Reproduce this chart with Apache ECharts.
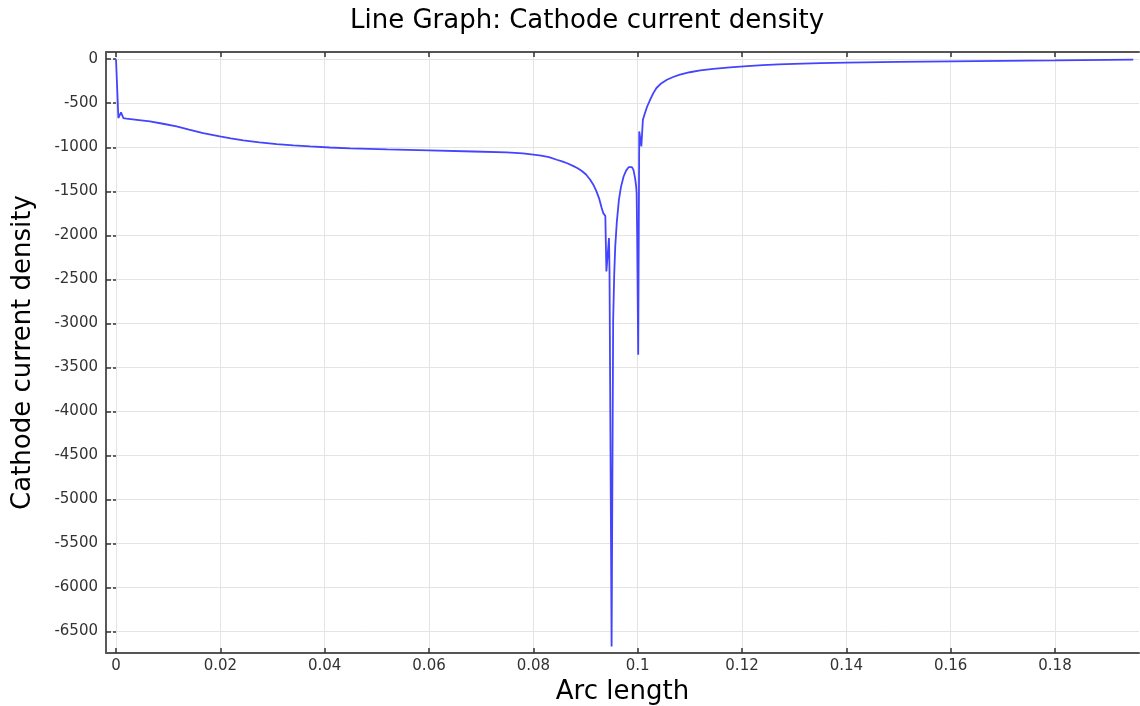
<!DOCTYPE html>
<html>
<head>
<meta charset="utf-8">
<script src="https://cdn.jsdelivr.net/npm/echarts@6/dist/echarts.min.js"></script>
<style>
  html, body { margin: 0; padding: 0; background: #fff; }
  #chart { width: 1140px; height: 706px; }
</style>
</head>
<body>
<div id="chart"></div>
<script>
// Arc length along the cathode boundary
const arcLength = [
  0, 0.00045, 0.00096, 0.0014, 0.002, 0.004, 0.0065, 0.009, 0.0116, 0.014,
  0.0167, 0.0199, 0.022, 0.0244, 0.0275, 0.0308, 0.034, 0.0372, 0.041, 0.0449,
  0.052, 0.0599, 0.0685, 0.0749, 0.078, 0.08, 0.0815, 0.083, 0.0845, 0.0855,
  0.0865, 0.0877, 0.0885, 0.0893, 0.0901, 0.0909, 0.0915, 0.0921, 0.0926, 0.0931,
  0.0934, 0.0938, 0.0940, 0.0945, 0.0946, 0.0950, 0.0953, 0.0955, 0.0957, 0.0960,
  0.0964, 0.0968, 0.0973, 0.0978, 0.0983, 0.0986, 0.0989, 0.0992, 0.0995, 0.0997,
  0.0998, 0.0999, 0.1001, 0.1003, 0.1007, 0.1010, 0.1014, 0.1018, 0.1024, 0.1030,
  0.1036, 0.1045, 0.1056, 0.1068, 0.1081, 0.110, 0.112, 0.1145, 0.1177, 0.121,
  0.124, 0.127, 0.13, 0.135, 0.14, 0.15, 0.16, 0.17, 0.18, 0.195
];

// Cathode current density at each arc length position
const currentDensity = [
  0, -668, -604, -668, -675, -688, -707, -733, -763, -800,
  -839, -877, -900, -922, -945, -964, -978, -990, -1003, -1013,
  -1025, -1036, -1048, -1059, -1070, -1083, -1095, -1112, -1142, -1160,
  -1182, -1215, -1238, -1270, -1310, -1369, -1425, -1502, -1580, -1691,
  -1748, -1780, -2411, -2032, -2400, -6670, -2960, -2450, -2127, -1850,
  -1597, -1450, -1332, -1262, -1225, -1215, -1225, -1260, -1350, -1440,
  -1520, -2000, -3358, -820, -991, -688, -611, -540, -460, -385,
  -327, -275, -233, -202, -176, -148, -127, -110, -92, -78,
  -67, -59, -53, -45, -39, -30, -24, -18, -14, -4
];

// Tick positions
const xTicks = [0, 0.02, 0.04, 0.06, 0.08, 0.1, 0.12, 0.14, 0.16, 0.18];
const yTicks = [0, -500, -1000, -1500, -2000, -2500, -3000, -3500, -4000,
                -4500, -5000, -5500, -6000, -6500];

const X_MIN = -0.00192, X_MAX = 0.1961;
const Y_MIN = -6745, Y_MAX = 82;

const FONT = 'DejaVu Sans';
const gridLine = { show: true, lineStyle: { color: '#e4e4e4', width: 1 } };

const chart = echarts.init(document.getElementById('chart'), null, { renderer: 'canvas' });

chart.setOption({
  animation: false,
  backgroundColor: '#ffffff',
  title: {
    text: 'Line Graph: Cathode current density',
    left: 582,
    top: 3,
    textAlign: 'center',
    textStyle: { fontFamily: FONT, fontSize: 26, fontWeight: 'normal', color: '#000' }
  },
  grid: { left: 106, right: 1, top: 52, bottom: 53, containLabel: false, outerBoundsMode: 'none' },
  xAxis: [
    {
      type: 'value',
      position: 'bottom',
      min: X_MIN,
      max: X_MAX,
      name: 'Arc length',
      nameLocation: 'middle',
      nameGap: 19,
      nameTextStyle: { fontFamily: FONT, fontSize: 26, color: '#000' },
      axisLine: { show: true, onZero: false, lineStyle: { color: '#555', width: 2 } },
      axisTick: { show: true, inside: true, length: 5, customValues: xTicks,
                  lineStyle: { color: '#333', width: 1.5 } },
      axisLabel: { customValues: xTicks, margin: 6, fontFamily: FONT, fontSize: 15, color: '#333',
                   formatter: v => String(v) },
      splitLine: gridLine
    },
    {
      type: 'value',
      position: 'top',
      min: X_MIN,
      max: X_MAX,
      axisLine: { show: true, onZero: false, lineStyle: { color: '#555', width: 2 } },
      axisTick: { show: true, inside: true, length: 5, customValues: xTicks,
                  lineStyle: { color: '#333', width: 1.5 } },
      axisLabel: { show: false },
      splitLine: { show: false }
    }
  ],
  yAxis: [
    {
      type: 'value',
      position: 'left',
      min: Y_MIN,
      max: Y_MAX,
      name: 'Cathode current density',
      nameLocation: 'middle',
      nameGap: 70,
      nameRotate: 90,
      nameTextStyle: { fontFamily: FONT, fontSize: 26, color: '#000' },
      axisLine: { show: true, onZero: false, lineStyle: { color: '#222', width: 1.5 } },
      axisTick: { show: true, inside: true, length: 5, customValues: yTicks,
                  lineStyle: { color: '#333', width: 1.5 } },
      axisLabel: { customValues: yTicks, margin: 8, fontFamily: FONT, fontSize: 15, color: '#333',
                   formatter: v => String(v) },
      splitLine: gridLine
    },
    {
      type: 'value',
      position: 'right',
      min: Y_MIN,
      max: Y_MAX,
      axisLine: { show: false },
      axisTick: { show: true, inside: true, length: 3, customValues: yTicks,
                  lineStyle: { color: '#333', width: 1.5 } },
      axisLabel: { show: false },
      splitLine: { show: false }
    }
  ],
  series: [
    {
      type: 'line',
      xAxisIndex: 0,
      yAxisIndex: 0,
      data: arcLength.map((s, i) => [s, currentDensity[i]]),
      showSymbol: false,
      smooth: false,
      lineStyle: { color: '#4444ff', width: 1.8 },
      emphasis: { disabled: true }
    }
  ]
});
</script>
</body>
</html>
